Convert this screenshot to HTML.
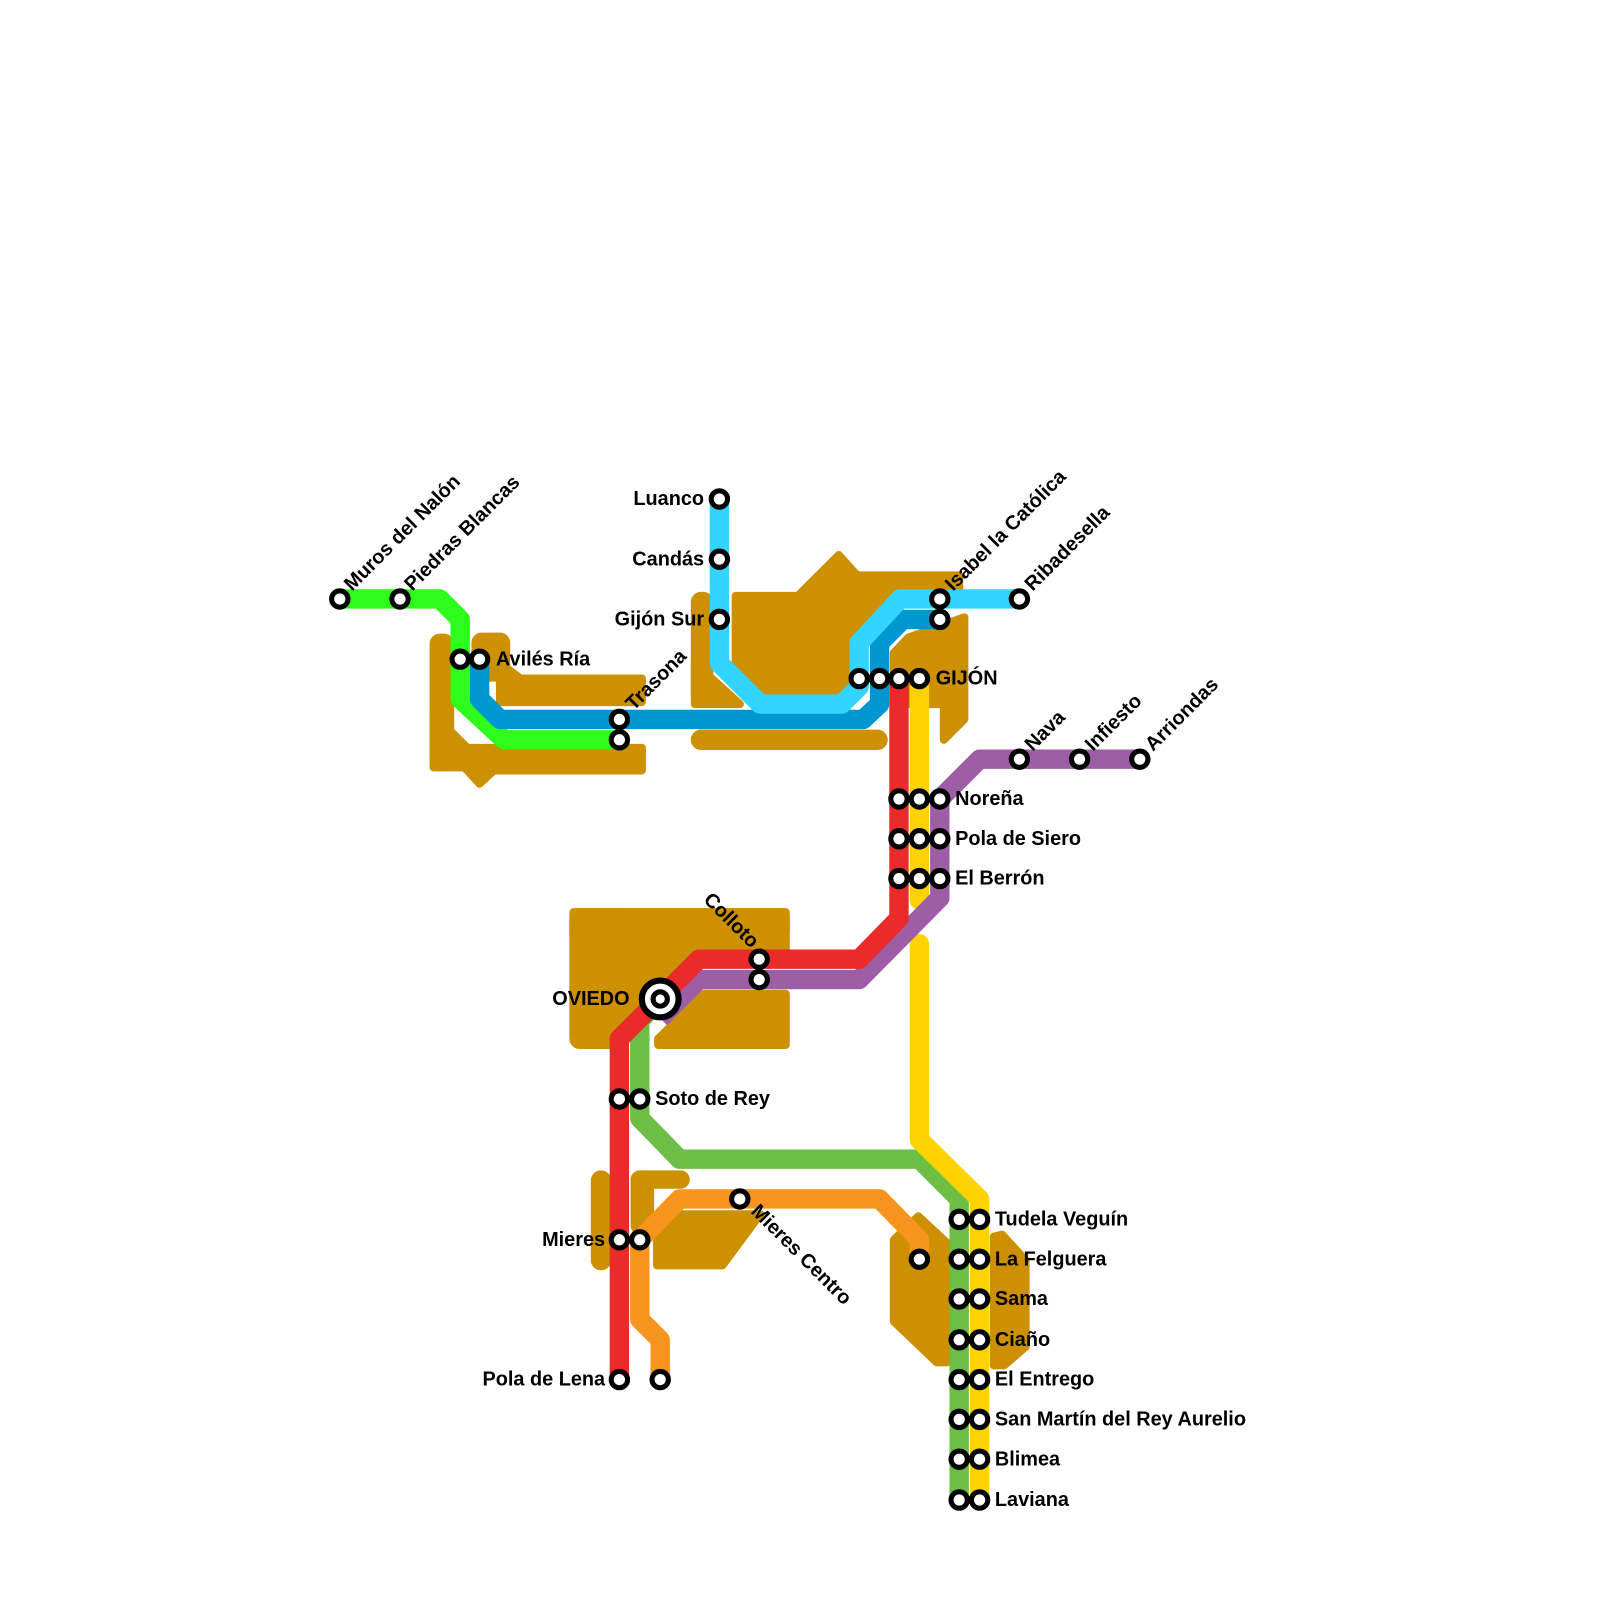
<!DOCTYPE html>
<html><head><meta charset="utf-8"><style>
html,body{margin:0;padding:0;background:#fff}
svg{display:block}
text{font-family:"Liberation Sans",Arial,sans-serif;font-weight:bold;font-size:19.5px;fill:#000}
</style></head><body>
<svg width="1600" height="1600" viewBox="0 0 1568 1568" xmlns="http://www.w3.org/2000/svg">
<g fill="#cc9000" stroke="#cc9000" stroke-width="8" stroke-linejoin="round">
<polygon points="435,632 441,632 441,740 458,755 470,768 484,755 629,755 629,733 441,733"/>
<rect x="425" y="625" width="16" height="127" rx="6"/>
<polygon points="425,700 470,745 500,752 425,752"/>
<rect x="466" y="624" width="30" height="40" rx="6"/>
<polygon points="490,650 510,665 629,665 629,688 490,688"/>
<rect x="681" y="584" width="14" height="104" rx="6"/>
<polygon points="681,650 725,690 681,690"/>
<polygon points="721,584 782,584 822,544 840,564 940,564 940,584 880,584 842,620 842,668 822,688 750,688 721,660"/>
<rect x="681" y="719" width="185" height="12" rx="6"/>
<polygon points="876,640 890,625 945,605 945,705 925,725 925,690 876,690"/>
<rect x="562" y="894" width="208" height="24" rx="6"/>
<rect x="562" y="894" width="50" height="130" rx="6"/>
<polygon points="562,894 770,894 770,940 685,940 610,1015 562,1015"/>
<polygon points="690,974 770,974 770,1024 645,1024 645,1018"/>
<rect x="583" y="1151" width="12" height="90" rx="6"/>
<rect x="622" y="1151" width="50" height="10" rx="5"/>
<rect x="622" y="1151" width="15" height="55" rx="5"/>
<polygon points="668,1190 745,1190 708,1240 644,1240 644,1215"/>
<polygon points="876,1215 900,1192 928,1218 928,1335 918,1335 876,1295"/>
<polygon points="974,1212 982,1210 1005,1235 1005,1320 984,1338 974,1338"/>
</g>
<g fill="none" stroke-width="19" stroke-linejoin="round" stroke-linecap="butt">
<polyline stroke="#2efc1a" points="333,587 431,587 451,607 451,685 494,725 607,725"/>
<polyline stroke="#0096d0" points="470,646 470,685 490,705 846,705 862,690 862,630 885,607 921,607"/>
<polyline stroke="#33d4ff" points="705,489 705,650 745,690 825,690 842,673 842,630 882,587 999,587"/>
<polyline stroke="#f7941d" points="627,1215 666,1175 862,1175 901,1215 901,1234"/>
<polyline stroke="#f7941d" points="627,1215 627,1293 647,1313 647,1352"/>
<polyline stroke="#6cbe45" points="647,979 627,1000 627,1096 666,1136 901,1136 940,1175 940,1470"/>
<polyline stroke="#ffd200" points="901,665 901,882" stroke-linecap="round"/>
<polyline stroke="#ffd200" points="901,925 901,1117 960,1175 960,1470" stroke-linecap="round"/>
<polyline stroke="#9e5ea5" points="921,783 960,744 1117,744"/>
<polyline stroke="#9e5ea5" points="921,783 921,880 842,960 685,960 647,998"/>
<polyline stroke="#eb2a2a" points="881,665 881,900 842,940 685,940 607,1018 607,1352"/>
</g>
<g fill="#fff" stroke="#000" stroke-width="5">
<circle cx="333" cy="587" r="8"/><circle cx="392" cy="587" r="8"/>
<circle cx="451" cy="646" r="8"/><circle cx="470" cy="646" r="8"/>
<circle cx="607" cy="705" r="8"/><circle cx="607" cy="725" r="8"/>
<circle cx="705" cy="489" r="8"/><circle cx="705" cy="548" r="8"/><circle cx="705" cy="607" r="8"/>
<circle cx="842" cy="665" r="8"/><circle cx="862" cy="665" r="8"/><circle cx="881" cy="665" r="8"/><circle cx="901" cy="665" r="8"/>
<circle cx="921" cy="587" r="8"/><circle cx="921" cy="607" r="8"/><circle cx="999" cy="587" r="8"/>
<circle cx="999" cy="744" r="8"/><circle cx="1058" cy="744" r="8"/><circle cx="1117" cy="744" r="8"/>
<circle cx="881" cy="783" r="8"/><circle cx="901" cy="783" r="8"/><circle cx="921" cy="783" r="8"/>
<circle cx="881" cy="822" r="8"/><circle cx="901" cy="822" r="8"/><circle cx="921" cy="822" r="8"/>
<circle cx="881" cy="861" r="8"/><circle cx="901" cy="861" r="8"/><circle cx="921" cy="861" r="8"/>
<circle cx="744" cy="940" r="8"/><circle cx="744" cy="960" r="8"/>
<circle cx="647" cy="979" r="18" stroke-width="6"/><circle cx="647" cy="979" r="7"/>
<circle cx="607" cy="1077" r="8"/><circle cx="627" cy="1077" r="8"/>
<circle cx="607" cy="1215" r="8"/><circle cx="627" cy="1215" r="8"/>
<circle cx="725" cy="1175" r="8"/><circle cx="901" cy="1234" r="8"/>
<circle cx="607" cy="1352" r="8"/><circle cx="647" cy="1352" r="8"/>
<circle cx="940" cy="1195" r="8"/><circle cx="960" cy="1195" r="8"/>
<circle cx="940" cy="1234" r="8"/><circle cx="960" cy="1234" r="8"/>
<circle cx="940" cy="1273" r="8"/><circle cx="960" cy="1273" r="8"/>
<circle cx="940" cy="1313" r="8"/><circle cx="960" cy="1313" r="8"/>
<circle cx="940" cy="1352" r="8"/><circle cx="960" cy="1352" r="8"/>
<circle cx="940" cy="1391" r="8"/><circle cx="960" cy="1391" r="8"/>
<circle cx="940" cy="1430" r="8"/><circle cx="960" cy="1430" r="8"/>
<circle cx="940" cy="1470" r="8"/><circle cx="960" cy="1470" r="8"/>
</g>
<g>
<text transform="translate(345,580) rotate(-45)">Muros del Nalón</text>
<text transform="translate(404,580) rotate(-45)">Piedras Blancas</text>
<text x="486" y="652">Avilés Ría</text>
<text transform="translate(621,697) rotate(-45)">Trasona</text>
<text x="690" y="495" text-anchor="end">Luanco</text>
<text x="690" y="554" text-anchor="end">Candás</text>
<text x="690" y="613" text-anchor="end">Gijón Sur</text>
<text x="917" y="671">GIJÓN</text>
<text transform="translate(934,580) rotate(-45)">Isabel la Católica</text>
<text transform="translate(1012,580) rotate(-45)">Ribadesella</text>
<text transform="translate(1012,737) rotate(-45)">Nava</text>
<text transform="translate(1071,737) rotate(-45)">Infiesto</text>
<text transform="translate(1130,737) rotate(-45)">Arriondas</text>
<text x="936" y="789">Noreña</text>
<text x="936" y="828">Pola de Siero</text>
<text x="936" y="867">El Berrón</text>
<text transform="translate(736,930) rotate(45)" text-anchor="end">Colloto</text>
<text x="617" y="985" text-anchor="end">OVIEDO</text>
<text x="642" y="1083">Soto de Rey</text>
<text x="593" y="1221" text-anchor="end">Mieres</text>
<text transform="translate(735,1188) rotate(45)">Mieres Centro</text>
<text x="593" y="1358" text-anchor="end">Pola de Lena</text>
<text x="975" y="1201">Tudela Veguín</text>
<text x="975" y="1240">La Felguera</text>
<text x="975" y="1279">Sama</text>
<text x="975" y="1319">Ciaño</text>
<text x="975" y="1358">El Entrego</text>
<text x="975" y="1397">San Martín del Rey Aurelio</text>
<text x="975" y="1436">Blimea</text>
<text x="975" y="1476">Laviana</text>
</g>
</svg>
</body></html>
